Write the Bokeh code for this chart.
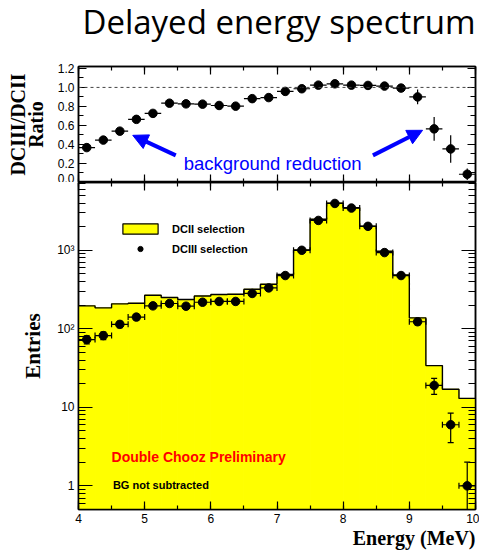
import numpy as np
from bokeh.plotting import figure
from bokeh.layouts import column
from bokeh.models import (Range1d, LinearAxis, SingleIntervalTicker, FixedTicker,
                          NumeralTickFormatter, ColumnDataSource, Whisker, TeeHead, NormalHead,
                          Arrow, Span, Label, Legend, LegendItem)
from bokeh.embed import file_html
from bokeh.resources import INLINE

# ---- data -------------------------------------------------------------
# 24 bins of 0.25 MeV between 4 and 10 MeV
bin_edges = np.linspace(4.0, 10.0, 25)
bin_centers = 0.5 * (bin_edges[:-1] + bin_edges[1:])

# DCII selection (histogram) and DCIII selection (points), entries per bin
dcii_counts = [196, 185, 208, 212, 268, 251, 236, 262, 273, 276, 319, 370,
               491, 1010, 2480, 3990, 3480, 2020, 971, 485, 138, 34, 17, 13]
dciii_counts = [73, 82, 114, 141, 196, 210, 194, 218, 223, 223, 282, 332,
                477, 1000, 2400, 3950, 3450, 2020, 935, 477, 123, 19, 6, 1]

# DCIII / DCII ratio and its uncertainty
ratio = [0.367, 0.446, 0.540, 0.664, 0.727, 0.834, 0.827, 0.824, 0.810, 0.803, 0.882, 0.893,
         0.958, 0.986, 1.024, 1.038, 1.024, 1.021, 1.014, 0.993, 0.900, 0.564, 0.353, 0.087]
ratio_err = [0.03, 0.03, 0.03, 0.03, 0.03, 0.03, 0.03, 0.03, 0.03, 0.03, 0.03, 0.03,
             0.03, 0.02, 0.02, 0.02, 0.02, 0.02, 0.02, 0.03, 0.077, 0.126, 0.144, 0.06]

half_bin = 0.125

# ---- styling ----------------------------------------------------------
SANS = "Liberation Sans"
SERIF = "Liberation Serif"
BLUE = "#0000ff"
YELLOW = "#ffff00"
W = 479
FRAME_L, FRAME_R = 78, 4


def style_axis(ax, major_in, minor_in, labels=True):
    ax.major_tick_in = major_in
    ax.major_tick_out = 0
    ax.minor_tick_in = minor_in
    ax.minor_tick_out = 0
    ax.axis_line_width = 1.5
    ax.axis_line_color = "black"
    ax.major_tick_line_width = 1.2
    ax.minor_tick_line_width = 1.2
    if labels:
        ax.major_label_text_font = SANS
        ax.major_label_text_font_size = "12px"
        ax.major_label_text_color = "black"
        ax.major_label_standoff = 4
    else:
        ax.major_label_text_font_size = "0px"
        ax.major_label_standoff = 0


def style_ytitle(ax, size, standoff):
    ax.axis_label_text_font = SERIF
    ax.axis_label_text_font_style = "bold"
    ax.axis_label_text_font_size = size
    ax.axis_label_text_color = "black"
    ax.axis_label_standoff = standoff


x_range = Range1d(4, 10)
x_ticker = SingleIntervalTicker(interval=1, num_minor_ticks=2)


def text_strip(height):
    """A bare strip sharing the energy axis that only carries a line of text."""
    f = figure(width=W, height=height, x_range=x_range, y_range=Range1d(0, height),
               output_backend="svg", toolbar_location=None, title_location=None,
               x_axis_location=None, y_axis_location=None, min_border=0,
               min_border_left=FRAME_L, min_border_right=FRAME_R)
    f.xgrid.visible = False
    f.ygrid.visible = False
    f.outline_line_color = None
    return f


# ---- heading ----------------------------------------------------------
head = text_strip(50)
head.add_layout(Label(x=10.0, y=29, text="Delayed energy spectrum", text_align="right",
                      text_baseline="alphabetic", text_font="Open Sans",
                      text_font_size="33px", text_color="black"))

# ---- ratio panel ------------------------------------------------------
top = figure(width=W, height=132, x_range=x_range, y_range=Range1d(0, 1.22),
             output_backend="svg", toolbar_location=None, title_location=None,
             min_border_left=FRAME_L, min_border_right=FRAME_R,
             min_border_top=16, min_border_bottom=0)
top.xgrid.grid_line_color = None
top.ygrid.grid_line_color = None
top.outline_line_color = "black"
top.outline_line_width = 1.5

r_ticker = SingleIntervalTicker(interval=0.2, num_minor_ticks=2)
top.yaxis.ticker = r_ticker
top.yaxis.formatter = NumeralTickFormatter(format="0.0")
style_axis(top.yaxis[0], 8, 5)
top.yaxis.axis_label = "DCIII/DCII\nRatio"
style_ytitle(top.yaxis[0], "20px", 8)
top.yaxis.axis_label_text_line_height = 0.8
top.xaxis.ticker = x_ticker
style_axis(top.xaxis[0], 8, 4, labels=False)
top.add_layout(LinearAxis(ticker=r_ticker), "right")
style_axis(top.right[0], 8, 5, labels=False)
top.add_layout(LinearAxis(ticker=x_ticker), "above")
style_axis(top.above[0], 8, 4, labels=False)

top.add_layout(Span(location=1.0, dimension="width", line_dash="3 3",
                    line_color="#444444", line_width=1))

rsrc = ColumnDataSource(dict(
    x=bin_centers, y=ratio,
    xlo=bin_centers - half_bin, xhi=bin_centers + half_bin,
    ylo=np.array(ratio) - np.array(ratio_err), yhi=np.array(ratio) + np.array(ratio_err)))
top.add_layout(Whisker(source=rsrc, base="x", lower="ylo", upper="yhi", dimension="height",
                       upper_head=None, lower_head=None, line_width=1.2, level="overlay"))
top.add_layout(Whisker(source=rsrc, base="y", lower="xlo", upper="xhi", dimension="width",
                       upper_head=None, lower_head=None, line_width=1.2, level="overlay"))
top.scatter("x", "y", source=rsrc, size=8.5, color="black")

# annotation: background reduction
top.add_layout(Label(x=5.59, y=0.197, text="background reduction", text_color=BLUE,
                     text_font=SANS, text_font_size="18.5px",
                     text_baseline="alphabetic", text_align="left"))
arrow_left = dict(x_start=5.47, y_start=0.285, x_end=4.82, y_end=0.496)
arrow_right = dict(x_start=8.45, y_start=0.285, x_end=9.20, y_end=0.549)
for a in (arrow_left, arrow_right):
    top.add_layout(Arrow(end=NormalHead(size=15, fill_color=BLUE, line_color=BLUE),
                         line_color=BLUE, line_width=4, **a))

# ---- spectrum panel ---------------------------------------------------
bot = figure(width=W, height=347, x_range=x_range, y_range=Range1d(0.5, 7300),
             y_axis_type="log", output_backend="svg", toolbar_location=None,
             title_location=None,
             min_border_left=FRAME_L, min_border_right=FRAME_R,
             min_border_top=0, min_border_bottom=20)
bot.xgrid.grid_line_color = None
bot.ygrid.grid_line_color = None
bot.outline_line_color = "black"
bot.outline_line_width = 1.5

log_major = [1, 10, 100, 1000]
log_minor = [m * 10.0 ** d for d in range(-1, 4) for m in range(2, 10)]
y_ticker = FixedTicker(ticks=log_major, minor_ticks=log_minor)
bot.yaxis.ticker = y_ticker
bot.yaxis.major_label_overrides = {1: "1", 10: "10", 100: "10\u00b2", 1000: "10\u00b3"}
style_axis(bot.yaxis[0], 14, 7)
bot.yaxis.axis_label = "Entries"
style_ytitle(bot.yaxis[0], "21px", 9)
bot.xaxis.ticker = x_ticker
style_axis(bot.xaxis[0], 8, 4)
# mirrored tick marks on the right and top edges
bot.add_layout(LinearAxis(ticker=y_ticker), "right")
style_axis(bot.right[0], 14, 7, labels=False)
bot.add_layout(LinearAxis(ticker=x_ticker), "above")
style_axis(bot.above[0], 8, 4, labels=False)

dcii = np.array(dcii_counts, dtype=float)
dciii = np.array(dciii_counts, dtype=float)

bot.quad(left=bin_edges[:-1], right=bin_edges[1:], top=dcii, bottom=0.1,
         fill_color=YELLOW, line_color=YELLOW, line_width=1)
bot.step(bin_edges, np.append(dcii, dcii[-1]), mode="after", line_color="black",
         line_width=1.4)

err = np.sqrt(dciii)
psrc = ColumnDataSource(dict(
    x=bin_centers, y=dciii,
    xlo=bin_centers - half_bin, xhi=bin_centers + half_bin,
    ylo=np.maximum(dciii - err, 0.01), yhi=dciii + err))
bot.add_layout(Whisker(source=psrc, base="x", lower="ylo", upper="yhi", dimension="height",
                       upper_head=TeeHead(size=6, line_width=1.2),
                       lower_head=TeeHead(size=6, line_width=1.2),
                       line_width=1.2, level="overlay"))
bot.add_layout(Whisker(source=psrc, base="y", lower="xlo", upper="xhi", dimension="width",
                       upper_head=TeeHead(size=6, line_width=1.2),
                       lower_head=TeeHead(size=6, line_width=1.2),
                       line_width=1.2, level="overlay"))
pts = bot.scatter("x", "y", source=psrc, size=8.5, color="black")

# legend swatch for the filled histogram (outlined box), kept below the visible range
swatch = bot.quad(left=[9.9], right=[9.95], top=[0.2], bottom=[0.1], fill_color=YELLOW,
                  line_color="black", line_width=1.2)
legend = Legend(items=[LegendItem(label="DCII selection", renderers=[swatch]),
                       LegendItem(label="DCIII selection", renderers=[pts])],
                location="top_left", glyph_width=44, glyph_height=13, label_height=13,
                label_standoff=10, spacing=7, padding=0, margin=40,
                border_line_color=None, background_fill_alpha=0,
                label_text_font=SANS, label_text_font_style="bold",
                label_text_font_size="11px", label_text_color="black")
bot.add_layout(legend)

bot.add_layout(Label(x=4.5, y=2.32, text="Double Chooz Preliminary", text_color="#ff0000",
                     text_font=SANS, text_font_style="bold", text_font_size="14px",
                     text_baseline="alphabetic"))
bot.add_layout(Label(x=4.52, y=1.02, text="BG not subtracted", text_color="black",
                     text_font=SANS, text_font_style="bold", text_font_size="11px",
                     text_baseline="alphabetic"))

# ---- x title, right-aligned under the axis ------------------------------
foot = text_strip(21)
foot.add_layout(Label(x=10.0, y=13, text="Energy (MeV)", text_align="right",
                      text_baseline="alphabetic", text_font=SERIF, text_font_style="bold",
                      text_font_size="20px", text_color="black"))

layout = column(head, top, bot, foot, spacing=0)
open("out.html", "w").write(file_html(layout, INLINE))
